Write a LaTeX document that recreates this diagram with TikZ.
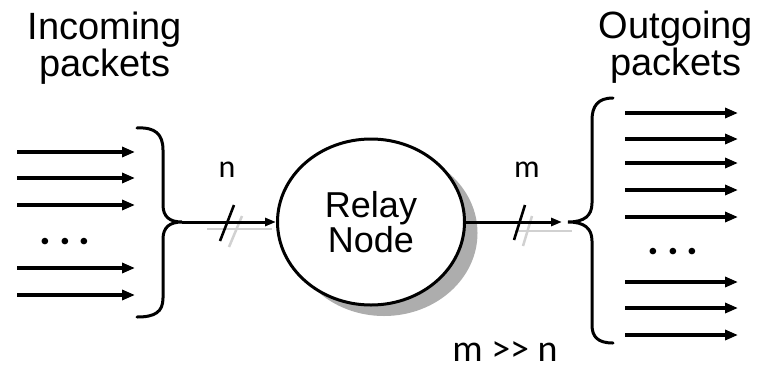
\documentclass[tikz,border=0pt]{standalone}
\usepackage{fontspec}
\setmainfont{Liberation Sans}
\newfontfamily\calib{Carlito}
\usetikzlibrary{arrows.meta,shapes.geometric}
\begin{document}
\begin{tikzpicture}[x=1pt,y=-1pt,
  pkt/.style={line width=3.2pt,-{Triangle[length=13pt,width=10pt]}},
  brace/.style={line width=3pt,line cap=round},
  conn/.style={line width=3pt,-{Triangle[length=11pt,width=8pt]}},
  slash/.style={line width=2.6pt},
  ghost/.style={line width=2.5pt,black!18},
  lbl/.style={font=\fontsize{38}{33}\selectfont,align=center,inner sep=0pt},
  small/.style={font=\calib\fontsize{32}{32}\selectfont,inner sep=0pt},
  dots/.style={font=\calib\bfseries\fontsize{44}{44}\selectfont,inner sep=0pt}]
\useasboundingbox (0,0) rectangle (759,370);
\fill[white] (0,0) rectangle (759,370);

% titles
\node[lbl,anchor=north] (intitle) at (105,12) {Incoming\\packets};
\node[lbl,anchor=north] (outtitle) at (676,11) {Outgoing\\packets};

% incoming packets
\foreach \y [count=\i] in {152,178,205,268,295} {
  \coordinate (ia\i) at (17,\y);
  \coordinate (ib\i) at (135,\y);
  \draw[pkt] (ia\i) -- (ib\i);
}
\node[dots] (indots) at (65,242) {.\hspace{8pt}.\hspace{8pt}.};

% outgoing packets
\foreach \y [count=\i] in {113,139,163,190,217,282,308,335} {
  \coordinate (oa\i) at (625,\y);
  \coordinate (ob\i) at (738,\y);
  \draw[pkt] (oa\i) -- (ob\i);
}
\node[dots] (outdots) at (673,252) {.\hspace{8pt}.\hspace{8pt}.};

% braces
\coordinate (lt) at (182,222);
\coordinate (rt) at (568,222);
\draw[brace] (137,128) .. controls (155,127) and (163,134) .. (163,150) -- (163,205)
  .. controls (163,217) and (170,222) .. (lt)
  .. controls (170,222) and (163,227) .. (163,239) -- (163,298)
  .. controls (163,312) and (155,317) .. (137,317);
\draw[brace] (613,98) .. controls (598,98) and (592,106) .. (592,120) -- (592,203)
  .. controls (592,216) and (584,222) .. (rt)
  .. controls (584,222) and (592,228) .. (592,241) -- (592,325)
  .. controls (592,337) and (598,343) .. (613,343);

% relay node with shadow
\fill[black!32] (384,233) ellipse [x radius=93.5pt, y radius=83pt];
\node[draw,ellipse,line width=3pt,fill=white,minimum width=187pt,minimum height=166pt,
  inner sep=0pt,font=\fontsize{36}{35}\selectfont,align=center] (relay) at (371,222) {Relay\\Node};

% ghost lines
\draw[ghost] (207,229) -- (272,229);
\draw[ghost] (229,247) -- (242,216);
\draw[ghost] (515,231) -- (572,231);
\draw[ghost] (523,246) -- (532,216);

% connectors
\draw[conn] (lt) -- (relay.west);
\draw[conn,shorten >=6pt] (relay.east) -- (rt);
\draw[slash] (220,241) -- (234,205);
\draw[slash] (514,240) -- (525,205);

% labels
\node[small,anchor=base] (nlbl) at (227,177) {n};
\node[small,anchor=base] (mlbl) at (527,177) {m};
\node[small,anchor=base,font=\calib\fontsize{38}{38}\selectfont] (cond) at (505,361) {m >{}> n};
\end{tikzpicture}
\end{document}
